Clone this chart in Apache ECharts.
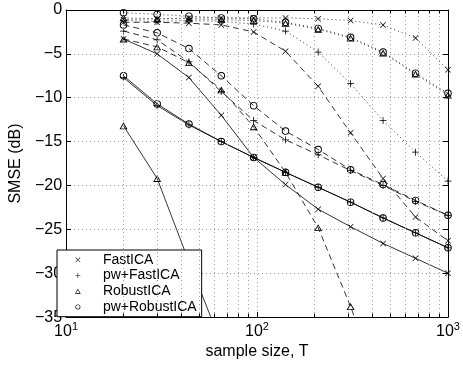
<!DOCTYPE html>
<html>
<head>
<meta charset="utf-8">
<script src="https://cdn.jsdelivr.net/npm/echarts@6/dist/echarts.min.js"></script>
<style>
  html, body { margin: 0; padding: 0; background: #fff; }
  #chart { width: 463px; height: 365px; }
</style>
</head>
<body>
<div id="chart"></div>
<script>
// sample sizes T (log spaced, 20 .. 1000)
const sampleSizes = [20, 30, 44, 65, 96, 141, 209, 309, 457, 676, 1000];
const minorTicks = [20, 30, 40, 50, 60, 70, 80, 90, 200, 300, 400, 500, 600, 700, 800, 900];
const yTicks = [0, -5, -10, -15, -20, -25, -30, -35];

// solid curves
const fastSolid = [-3.3, -5.0, -7.7, -12.0, -16.8, -19.9, -22.7, -24.7, -26.6, -28.3, -30.0];
const pwFastSolid = [-7.7, -10.9, -13.1, -15.0, -16.8, -18.5, -20.2, -21.9, -23.7, -25.4, -27.1];
const robustSolid = [-13.2, -19.2, -28.7, -38.0, -48.0, -58.0, -68.0, -78.0, -88.0, -98.0, -108.0];
const pwRobustSolid = [-7.5, -10.7, -13.0, -15.0, -16.8, -18.5, -20.2, -21.9, -23.7, -25.4, -27.1];

// dashed curves
const fastDashed = [-1.4, -1.4, -1.5, -1.7, -2.5, -4.7, -8.7, -14.0, -19.2, -23.6, -26.3];
const pwFastDashed = [-2.4, -3.4, -5.9, -9.3, -12.6, -14.8, -16.5, -18.3, -20.0, -21.8, -23.4];
const robustDashed = [-3.3, -4.2, -6.0, -9.1, -13.3, -18.5, -24.8, -33.8, -44.0, -54.0, -64.0];
const pwRobustDashed = [-1.7, -2.6, -4.4, -7.5, -10.9, -13.8, -15.9, -18.2, -19.9, -21.7, -23.4];

// dotted curves
const fastDotted = [-1.1, -1.0, -0.9, -0.9, -0.9, -0.9, -1.0, -1.2, -1.7, -3.2, -6.8];
const pwFastDotted = [-1.2, -1.3, -1.2, -1.3, -1.6, -2.4, -4.8, -8.4, -12.6, -16.2, -19.5];
const robustDotted = [-0.9, -1.0, -1.0, -1.1, -1.2, -1.5, -2.2, -3.2, -4.9, -7.3, -9.7];
const pwRobustDotted = [-0.3, -0.5, -0.7, -0.9, -1.0, -1.4, -2.1, -3.1, -4.8, -7.2, -9.5];

// thin outline marker shapes (hollow, like MATLAB markers)
const crossPath = 'path://M0,0.8L0.8,0L10,9.2L9.2,10Z M0.8,10L0,9.2L9.2,0L10,0.8Z';
const plusPath = 'path://M4.45,0H5.55V4.45H10V5.55H5.55V10H4.45V5.55H0V4.45H4.45Z';
const trianglePath = 'path://M5,0L10,8.66L0,8.66Z M5,2.1L1.85,7.6L8.15,7.6Z';
const circlePath = 'path://M5,0A5,5 0 1,1 5,10A5,5 0 1,1 5,0Z M5,1.25A3.75,3.75 0 1,0 5,8.75A3.75,3.75 0 1,0 5,1.25Z';

const methods = [
  { name: 'FastICA', symbol: crossPath, size: 6 },
  { name: 'pw+FastICA', symbol: plusPath, size: 7 },
  { name: 'RobustICA', symbol: trianglePath, size: 8 },
  { name: 'pw+RobustICA', symbol: circlePath, size: 7.5 }
];

const styles = {
  solid: { type: 'solid', color: '#000', width: 0.8 },
  dashed: { type: [6, 4], color: '#000', width: 0.8 },
  dotted: { type: [1, 3], color: '#333', width: 1 }
};

const curves = [
  [0, 'solid', fastSolid], [1, 'solid', pwFastSolid], [2, 'solid', robustSolid], [3, 'solid', pwRobustSolid],
  [0, 'dashed', fastDashed], [1, 'dashed', pwFastDashed], [2, 'dashed', robustDashed], [3, 'dashed', pwRobustDashed],
  [0, 'dotted', fastDotted], [1, 'dotted', pwFastDotted], [2, 'dotted', robustDotted], [3, 'dotted', pwRobustDotted]
];

const font = 'Liberation Sans';

const series = curves.map(([m, style, values]) => ({
  name: methods[m].name,
  type: 'line',
  data: sampleSizes.map((t, i) => [t, values[i]]),
  symbol: methods[m].symbol,
  symbolSize: methods[m].size,
  symbolKeepAspect: true,
  showAllSymbol: true,
  clip: true,
  lineStyle: styles[style],
  itemStyle: { color: '#000', borderWidth: 0 },
  emphasis: { disabled: true },
  z: 3
}));

// minor grid lines and minor ticks of the log axis
series.push({
  name: 'minor',
  type: 'line',
  data: [],
  silent: true,
  z: 1,
  markLine: {
    silent: true,
    symbol: 'none',
    animation: false,
    label: { show: false },
    lineStyle: { color: '#999', type: [1, 3], width: 1 },
    data: minorTicks.map(v => ({ xAxis: v }))
  }
});
series.push({
  name: 'minorTicks',
  type: 'line',
  data: [],
  silent: true,
  z: 3,
  markLine: {
    silent: true,
    symbol: 'none',
    animation: false,
    label: { show: false },
    lineStyle: { color: '#000', type: 'solid', width: 1 },
    data: minorTicks.flatMap(v => [
      [{ coord: [v, -35] }, { coord: [v, -34.6] }],
      [{ coord: [v, 0] }, { coord: [v, -0.4] }]
    ])
  }
});

const chart = echarts.init(document.getElementById('chart'), null, { renderer: 'canvas' });

const axisLineStyle = { show: true, onZero: false, lineStyle: { color: '#000', width: 1 } };
const gridLine = { show: true, lineStyle: { color: '#999', type: [1, 3], width: 1 } };

chart.setOption({
  animation: false,
  backgroundColor: '#fff',
  textStyle: { fontFamily: font, color: '#000' },
  grid: { left: 54, right: 15, top: 10, bottom: 43, containLabel: false },
  legend: {
    orient: 'vertical',
    left: 57,
    top: 250,
    backgroundColor: '#fff',
    borderColor: '#000',
    borderWidth: 1,
    borderRadius: 0,
    padding: [2, 5, 2, 18],
    itemWidth: 28,
    itemHeight: 5,
    itemGap: 0.1,
    symbolKeepAspect: true,
    selectedMode: false,
    itemStyle: { color: '#000', borderWidth: 0 },
    textStyle: {
      fontFamily: font, fontSize: 14, color: '#000', lineHeight: 15.6,
      rich: { g: { width: 6, lineHeight: 15.6, fontSize: 14 } }
    },
    formatter: name => '{g| }' + name,
    data: methods.map(m => ({ name: m.name, icon: m.symbol }))
  },
  xAxis: [
    {
      type: 'log',
      logBase: 10,
      min: 10,
      max: 1000,
      position: 'bottom',
      axisLine: axisLineStyle,
      axisTick: { show: true, inside: true, length: 5, lineStyle: { color: '#000' } },
      splitLine: gridLine,
      axisLabel: {
        margin: 4,
        color: '#000',
        fontFamily: font,
        fontSize: 16,
        formatter: v => '10{s|' + Math.round(Math.log10(v)) + '}',
        rich: { s: { fontSize: 11, fontFamily: font, color: '#000', verticalAlign: 'top', padding: [0, 0, 9, 0] } }
      },
      name: 'sample size, T',
      nameLocation: 'middle',
      nameGap: 26,
      nameTextStyle: { fontFamily: font, fontSize: 16, color: '#000' }
    },
    {
      type: 'log',
      logBase: 10,
      min: 10,
      max: 1000,
      position: 'top',
      axisLine: axisLineStyle,
      axisTick: { show: true, inside: true, length: 5, lineStyle: { color: '#000' } },
      axisLabel: { show: false },
      splitLine: { show: false }
    }
  ],
  yAxis: [
    {
      type: 'value',
      min: -35,
      max: 0,
      interval: 5,
      position: 'left',
      axisLine: axisLineStyle,
      axisTick: { show: true, inside: true, length: 5, lineStyle: { color: '#000' } },
      splitLine: gridLine,
      axisLabel: {
        margin: 4,
        color: '#000',
        fontFamily: font,
        fontSize: 16,
        formatter: v => yTicks.includes(v) ? String(v).replace('-', '\u2212') : ''
      },
      name: 'SMSE (dB)',
      nameLocation: 'middle',
      nameGap: 39,
      nameRotate: 90,
      nameTextStyle: { fontFamily: font, fontSize: 16, color: '#000' }
    },
    {
      type: 'value',
      min: -35,
      max: 0,
      interval: 5,
      position: 'right',
      axisLine: axisLineStyle,
      axisTick: { show: true, inside: true, length: 5, lineStyle: { color: '#000' } },
      axisLabel: { show: false },
      splitLine: { show: false }
    }
  ],
  series: series
});
</script>
</body>
</html>
